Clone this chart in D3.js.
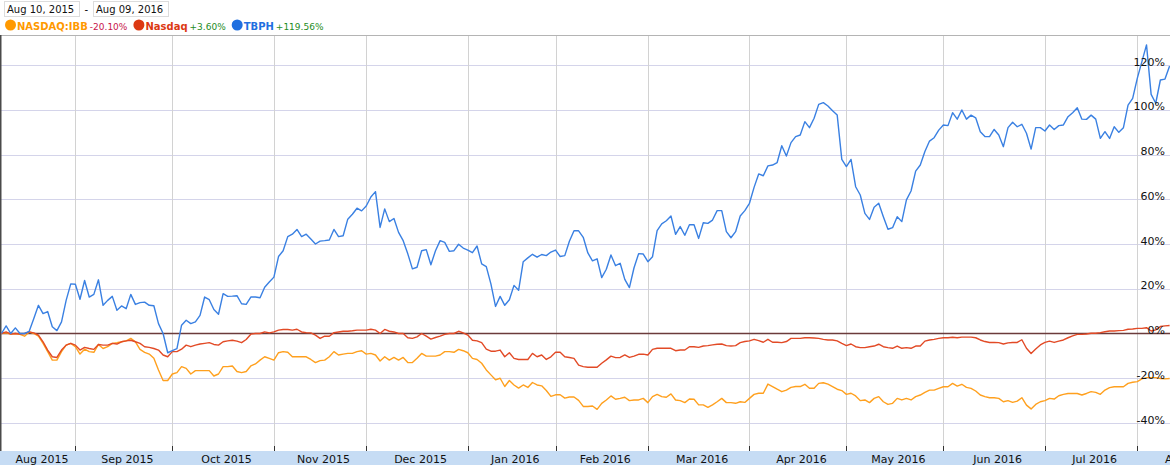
<!DOCTYPE html>
<html>
<head>
<meta charset="utf-8">
<script src="https://cdn.jsdelivr.net/npm/d3@7"></script>
<style>
  body { margin: 0; background: #fff; }
  text { font-family: "DejaVu Sans", Verdana, sans-serif; }
</style>
</head>
<body>
<div id="container"></div>
<script>
const width = 1170;
const height = 465;

// percent change since Aug 10, 2015, one value per trading day
const tbph = [
  0, 3.4, 0, 2.5, 0, 0, 1, 6.7, 12.6, 8.9,
  9.8, 3, 1.3, 5.2, 14.8, 22.2, 22, 15.3, 23.7, 16.3,
  17.5, 24, 12.6, 14.8, 16.6, 10.4, 12.3, 11.1, 17.5, 13,
  13.8, 14, 12.6, 12.4, 4.4, 0, -8.6, -7.7, -6.8, 3.7,
  5.9, 4.4, 5.2, 8.1, 16.3, 15.1, 10.7, 8.6, 17.8, 16.6,
  16.7, 16.9, 13.3, 13, 16.3, 16.3, 16, 20.7, 23, 25.2,
  34.4, 37, 43.3, 44.4, 46.5, 43.3, 44.4, 42.2, 40, 41.3,
  41.5, 41.8, 46.5, 43.3, 43.7, 51.1, 53.3, 56, 54.8, 57,
  61, 63.4, 47.4, 55.7, 50, 51.4, 45.2, 41.5, 35.6, 28.9,
  29.6, 37, 37.5, 30.7, 37, 41.5, 40.7, 36.7, 37, 39.9,
  38.2, 37.3, 36.1, 39.1, 31.1, 29.9, 22.2, 12.1, 16.6, 12.6,
  15.1, 21.5, 19.3, 32.1, 33.8, 35.4, 34.1, 35.3, 34.8, 36.4,
  37.3, 34.4, 34.8, 41.2, 45.9, 45.9, 43, 36, 32.5, 33.4,
  25, 28.7, 35.1, 30.3, 31.4, 24.2, 20.5, 29.4, 35.7, 35.5,
  32.1, 34.3, 46, 49, 50.4, 52.5, 44.3, 47.8, 43.9, 48.6,
  48.6, 42.5, 49.5, 49.2, 50.7, 54.9, 54.9, 45.5, 42.8, 45.5,
  52.5, 54.9, 58.2, 65.3, 71.3, 70.5, 74.9, 75.3, 76.4, 83.9,
  79.3, 85.3, 88, 88.7, 94.7, 92, 96.2, 102.4, 103.2, 101.7,
  99.6, 97.7, 77.8, 74.6, 77.8, 65.6, 61.9, 53.7, 51, 56.4,
  58.2, 52.2, 46.6, 47.3, 52.2, 50, 59.7, 63.7, 72.6, 75.3,
  81.3, 86, 87.5, 90.9, 93.2, 92.9, 98.7, 95.8, 99.9, 95.8,
  97.6, 96.4, 90.2, 88, 88, 91.2, 88.7, 83.5, 92, 94.4,
  92.4, 93.5, 89.5, 82.4, 92, 92, 90.5, 93.2, 91.2, 92.9,
  93.2, 96.9, 98.7, 100.9, 95.8, 95.7, 97.6, 95.8, 87.2, 90.2,
  87.2, 92.4, 89.9, 92, 102.1, 105.1, 114, 121.5, 129, 106.9,
  102.9, 113.3, 113.7, 119.56
];

const nasdaq = [
  0, 0.7, -0.3, 0, -0.3, 0, 0.7, 0.3, -0.7, -3.7,
  -7.4, -10.4, -10.7, -7.4, -5.2, -4.4, -5.2, -7.4, -6.2, -6.7,
  -7.1, -4.9, -5.2, -5.2, -4.4, -4.7, -3.7, -3.3, -3, -3.7,
  -4.4, -5.9, -6.2, -6.7, -7.4, -9.6, -10.4, -8.1, -8.1, -7,
  -5.2, -5.9, -5.2, -4.7, -4.4, -4.1, -4.9, -5.2, -3.7, -3.3,
  -3, -3.4, -4.1, -2.7, -0.3, 0, 0, 0.7, 0.3, 0.7,
  1.5, 1.8, 1.8, 1.5, 1.9, 0.7, 0.4, 0.3, -0.7, -2.2,
  -1.2, -1.2, 0.4, 0.7, 1, 1, 1.2, 1.5, 1.5, 1.5,
  1.9, 1.5, 0, 1.8, 1, 0.7, 0, 0, -1.9, -2.2,
  -1.5, 0, -1.2, -2.5, -1.8, -1.2, -0.4, 0, 0, 1,
  0.3, -0.7, -3, -3.3, -4.1, -7, -7.9, -7.9, -7.4, -10.4,
  -8.6, -11.1, -11.6, -11.6, -11.6, -8.9, -10.4, -9.6, -11.6, -10.4,
  -8.4, -8.4, -10.4, -10.7, -11.1, -14.1, -14.8, -15.1, -15.1, -15.1,
  -13.3, -11.8, -10.1, -10.8, -10.7, -9.6, -10.7, -10.1, -9.3, -9.2,
  -9.6, -7.1, -6.6, -6.6, -6.6, -6.6, -7.7, -7.4, -7.4, -5.9,
  -5.9, -6.2, -5.6, -5.4, -5.1, -4.8, -4.7, -5.4, -5.6, -5.4,
  -4.1, -3.6, -3.3, -2.6, -3.2, -3.9, -2.6, -3.9, -3.9, -4.1,
  -3.6, -2.2, -2.2, -2.2, -1.9, -1.9, -2, -2.2, -2.6, -2.9,
  -2.9, -3.3, -4.4, -5.4, -4.7, -5.9, -6.3, -6.3, -5.9, -5.6,
  -4.8, -5.9, -6.3, -6.6, -5.6, -6.6, -6.3, -6.6, -5.6, -5.6,
  -3.4, -2.9, -2.6, -2.2, -1.9, -1.9, -1.7, -1.9, -1.6, -1.6,
  -1.6, -1.9, -2.9, -3.6, -4, -4, -4.1, -4.7, -4.2, -4,
  -4, -2.8, -6.6, -8.9, -6.9, -5.1, -4, -3.4, -4, -3.4,
  -2.9, -1.9, -1.1, -0.4, -0.4, -0.2, 0.1, 0.1, 0.4, 0.8,
  1.1, 1.1, 1.3, 1.4, 1.9, 2, 2.3, 2.3, 2.6, 1.1,
  1.6, 3.1, 3.4, 3.6
];

const ibb = [
  0, 0.3, -0.3, 0, -0.4, -1.2, 0.7, 0, -1.2, -4.4,
  -8.1, -11.9, -11.9, -8.1, -5.2, -4.4, -5.9, -9.2, -7, -8.1,
  -8.4, -4.9, -6.7, -5.9, -4.4, -4.1, -3.7, -3.3, -2.2, -3.7,
  -7.1, -8.4, -9.2, -11.1, -16.3, -21, -21, -18.1, -17.5, -14.8,
  -15.6, -18.1, -16.6, -16.6, -16.6, -16.6, -19, -18.1, -14.8, -14.8,
  -14.5, -17, -17.5, -17, -14.5, -13.6, -11.9, -10.4, -11.1, -11.9,
  -8.6, -8.1, -8.4, -10.4, -10.4, -10.4, -10.4, -11.6, -13, -12.1,
  -11.9, -10.4, -8.1, -9.6, -9.2, -8.9, -8.9, -8.1, -7.7, -9.2,
  -8.9, -9.6, -12.3, -10.4, -11.9, -10.7, -11.9, -10.7, -13, -13,
  -11.1, -8.9, -10.1, -10.1, -10.1, -9.6, -8.1, -8.1, -8.4, -7.1,
  -7.7, -8.6, -11.1, -11.6, -13.3, -16.3, -18.5, -20.7, -20, -23.7,
  -21, -23, -24.4, -23, -24.1, -21.9, -23, -23.4, -25.5, -28.1,
  -27.4, -27.4, -28.9, -28.4, -28.4, -29.9, -32.6, -32.6, -32.4, -33.9,
  -31.2, -29.7, -27.9, -29.4, -29, -28.5, -30, -29.7, -29.7, -29,
  -30.9, -28.2, -27.2, -28.2, -28.5, -27, -29.7, -30, -30.9, -29.3,
  -29.4, -31.9, -31.9, -33, -31.9, -30.5, -29, -30.9, -30.9, -31.2,
  -30.5, -30.8, -29, -27.2, -26.7, -26.7, -22.6, -23.7, -24.9, -26,
  -25.3, -24.1, -23.7, -23.7, -22.7, -24.5, -24.5, -22.3, -22, -22.6,
  -23.7, -24.9, -25.5, -27.2, -26.7, -27.9, -30, -29.7, -30.9, -29,
  -28.2, -30.5, -31.7, -31.2, -29, -29.7, -29, -29.7, -28.2, -27.5,
  -26.3, -25.3, -25.3, -24.5, -23.8, -23.8, -22.3, -23.5, -22.7, -24.1,
  -24.5, -25.7, -27.5, -28.2, -28.7, -28.7, -29, -30.5, -30, -30.8,
  -30.2, -28.7, -32, -33.7, -31.7, -30.5, -30, -29, -29.3, -27.8,
  -27.2, -26.8, -26.8, -26.8, -27.5, -26.8, -26, -26.3, -27.2, -25.3,
  -24.2, -23.8, -23.8, -23.8, -22.3, -21.8, -21.5, -20.3, -19.7, -19.7,
  -19.7, -20.1, -20.3, -20.1
];

const seriesNames = ["NASDAQ:IBB", "Nasdaq", "TBPH"];
const seriesChanges = ["-20.10%", "+3.60%", "+119.56%"];
const seriesColors = ["#ff9900", "#dc3912", "#1f6fe0"];
const lineColors = ["#ffa01e", "#e24a26", "#3a80e2"];

// trading-day index where each month starts (last entry: end of the Aug 2016 label span)
const monthBounds = [0, 16, 37, 59, 79, 101, 120, 140, 162, 183, 204, 226, 246, 268];
const monthLabels = ["Aug 2015", "Sep 2015", "Oct 2015", "Nov 2015", "Dec 2015", "Jan 2016",
  "Feb 2016", "Mar 2016", "Apr 2016", "May 2016", "Jun 2016", "Jul 2016", "Aug 2016"];
const yTicks = [-40, -20, 0, 20, 40, 60, 80, 100, 120];
const dateRange = ["Aug 10, 2015", "Aug 09, 2016"];

const plotTop = 35, plotBottom = 446, bandTop = 451;

const x = d3.scaleLinear().domain([0, tbph.length - 1]).range([1.5, 1169.6]);
const y = d3.scaleLinear().domain([-40, 120]).range([423, 65]);

const svg = d3.select("#container")
  .append("svg")
  .attr("width", width)
  .attr("height", height)
  .attr("viewBox", [0, 0, width, height]);

// header: date range boxes
const dateBoxes = [{ x: 4, text: dateRange[0] }, { x: 93, text: dateRange[1] }];
dateBoxes.forEach(b => {
  svg.append("rect")
    .attr("x", b.x + 0.5).attr("y", 1.5)
    .attr("width", 75).attr("height", 15)
    .attr("fill", "#fff").attr("stroke", "#dcdcdc");
  svg.append("text")
    .attr("x", b.x + 3).attr("y", 12.5)
    .attr("font-size", 10).attr("fill", "#111")
    .text(b.text);
});
svg.append("text").attr("x", 84.5).attr("y", 12.5).attr("font-size", 10).text("-");

// legend
let lx = 5;
seriesNames.forEach((name, k) => {
  svg.append("circle").attr("cx", lx + 5.5).attr("cy", 25).attr("r", 5.5)
    .attr("fill", seriesColors[k]);
  const t = svg.append("text").attr("x", lx + 12).attr("y", 29.5)
    .attr("font-size", 10).attr("font-weight", "bold")
    .attr("fill", seriesColors[k]).text(name);
  const nx = lx + 12 + t.node().getComputedTextLength() + 2;
  const c = svg.append("text").attr("x", nx).attr("y", 29.5)
    .attr("font-size", 9)
    .attr("fill", seriesChanges[k].startsWith("-") ? "#c8144b" : "#1e8c1e")
    .text(seriesChanges[k]);
  lx = nx + c.node().getComputedTextLength() + 6;
});

// plot frame
svg.append("line")
  .attr("x1", 0).attr("x2", width).attr("y1", plotTop + 0.5).attr("y2", plotTop + 0.5)
  .attr("stroke", "#b4b4b4");

// horizontal grid
svg.append("g").selectAll("line")
  .data(yTicks.filter(v => v !== 0))
  .join("line")
  .attr("x1", 0).attr("x2", width)
  .attr("y1", d => Math.round(y(d)) + 0.5).attr("y2", d => Math.round(y(d)) + 0.5)
  .attr("stroke", "#d4d4ea");

// vertical grid and ticks at month starts
const starts = monthBounds.slice(1, -1);
svg.append("g").selectAll("line")
  .data(starts)
  .join("line")
  .attr("x1", d => Math.round(x(d)) + 0.5).attr("x2", d => Math.round(x(d)) + 0.5)
  .attr("y1", plotTop + 1).attr("y2", plotBottom)
  .attr("stroke", "#d2d2d2");

// axis band
svg.append("rect")
  .attr("x", 0).attr("y", bandTop).attr("width", width).attr("height", height - bandTop)
  .attr("fill", "#c6dcf4");

svg.append("g").selectAll("line")
  .data(starts)
  .join("line")
  .attr("x1", d => Math.round(x(d)) + 0.5).attr("x2", d => Math.round(x(d)) + 0.5)
  .attr("y1", plotBottom).attr("y2", bandTop)
  .attr("stroke", "#333");

svg.append("g").selectAll("text")
  .data(monthLabels)
  .join("text")
  .attr("x", (d, k) => x((monthBounds[k] + monthBounds[k + 1]) / 2) + 3.5)
  .attr("y", 462.5)
  .attr("text-anchor", "middle")
  .attr("font-size", 11)
  .attr("fill", "#111")
  .text(d => d);

// left border
svg.append("line")
  .attr("x1", 0.75).attr("x2", 0.75).attr("y1", plotTop).attr("y2", bandTop)
  .attr("stroke", "#4a4a4a").attr("stroke-width", 1.5);

// zero line
svg.append("line")
  .attr("x1", 0).attr("x2", width)
  .attr("y1", y(0)).attr("y2", y(0))
  .attr("stroke", "#6b3b3b").attr("stroke-width", 1.3);

// series
const line = d3.line().x((d, i) => x(i)).y(d => y(d));
[ibb, nasdaq, tbph].forEach((s, k) => {
  svg.append("path")
    .datum(s)
    .attr("fill", "none")
    .attr("stroke", lineColors[k])
    .attr("stroke-width", 1.4)
    .attr("stroke-linejoin", "round")
    .attr("d", line);
});

// y labels on the right
svg.append("g").selectAll("text")
  .data(yTicks)
  .join("text")
  .attr("x", 1165)
  .attr("y", d => y(d) + 0.5)
  .attr("text-anchor", "end")
  .attr("font-size", 11)
  .attr("fill", "#111")
  .text(d => d + "%");
</script>
</body>
</html>
